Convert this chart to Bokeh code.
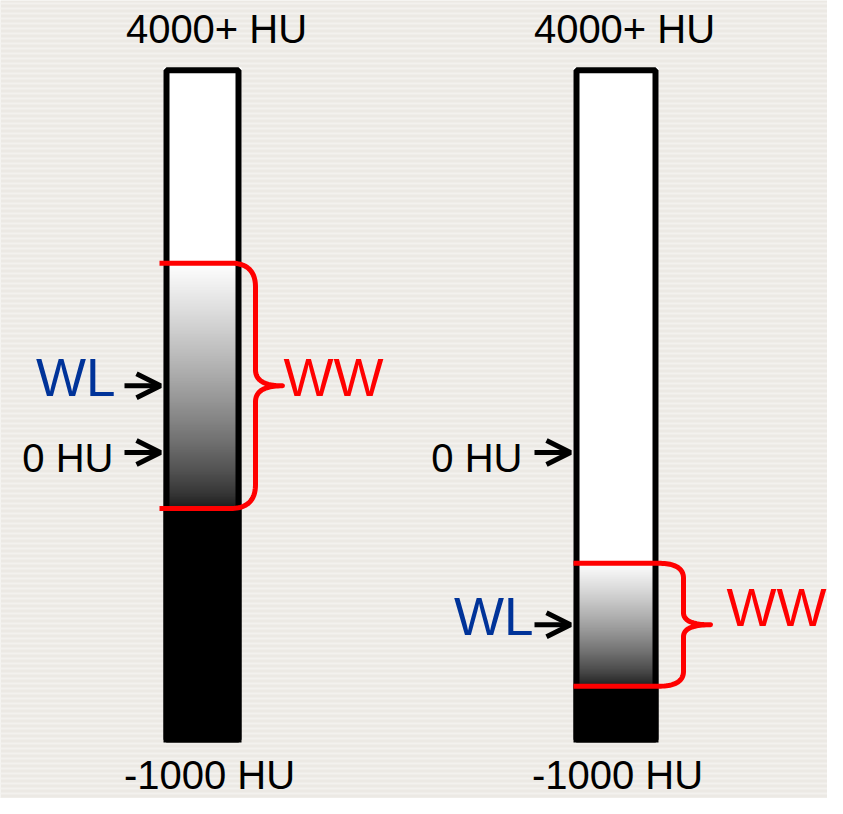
import numpy as np
from bokeh.plotting import figure
from bokeh.models import Range1d, LinearColorMapper, Arrow, OpenHead
from bokeh.core.properties import value
from bokeh.embed import file_html
from bokeh.resources import INLINE

# ---------------- data ----------------
hu_floor = -1000            # bottom of the CT scale
hu_display_top = 1328       # top of the drawn bar (schematic: everything above shown white, "4000+")
top_labels = ["4000+ HU", "4000+ HU"]
bottom_labels = ["-1000 HU", "-1000 HU"]
zero_hu = [0, 0]
zero_labels = ["0 HU", "0 HU"]
window_level = [230, -594]   # WL of each panel (HU)
window_width = [846, 424]    # WW of each panel (HU)
wl_labels = ["WL", "WL"]
ww_labels = ["WW", "WW"]

# ---------------- layout / style ----------------
W, H = 827, 798
x_lo, x_hi = 0, 827
y_lo, y_hi = -1193.1, 1558.6
hu_per_px = (y_hi - y_lo) / H

bar_x0 = [163, 573]
bar_x1 = [241, 658]
brace_start = [159, 573]
brace_vx = [255, 683]
brace_tip = [282, 710]
corner_rx = [25, 25]
corner_ry = [24, 15]
tip_ry = [16, 12]
arrow_len = [39, 39]
wl_gap = [9, 1]
zero_gap = [11, 12]
ww_gap = [1, 16]
ww_dy = [9, 0]
top_label_x = [216, 624]
bottom_label_x = [209, 617]
shift40, shift53 = 14, 17    # baseline correction of the renderer

bg = "#ECE9E4"
stripe = "#F3F1EE"
blue = "#003399"
red = "#FF0000"
font = value("Liberation Sans")
# grey ramp of the display (dark grey -> white, slightly lifted midtones)
greys = ["#%02x%02x%02x" % ((v,) * 3) for v in
         (26 + 229 * np.linspace(0, 1, 256) ** 0.75).round().astype(int)]

p = figure(width=W, height=H, x_range=Range1d(x_lo, x_hi), y_range=Range1d(y_lo, y_hi),
           output_backend="svg", toolbar_location=None, min_border=0,
           x_axis_location=None, y_axis_location=None,
           background_fill_color=bg, border_fill_color=bg)
p.grid.visible = False
p.outline_line_color = None

# subtle horizontal stripes of the slide background
p.quad(left=x_lo, right=x_hi, bottom=y_lo, top=y_hi, fill_color=None, line_color=None,
       hatch_pattern="horizontal_line", hatch_color=stripe, hatch_scale=5, hatch_weight=2)


def qbez(p0, p1, p2, n=24):
    t = np.linspace(0, 1, n)
    x = (1 - t) ** 2 * p0[0] + 2 * (1 - t) * t * p1[0] + t ** 2 * p2[0]
    y = (1 - t) ** 2 * p0[1] + 2 * (1 - t) * t * p1[1] + t ** 2 * p2[1]
    return list(x), list(y)


hu_grid = np.arange(hu_floor, hu_display_top + 1, 1.0).reshape(-1, 1)

for i in range(2):
    wl, ww = window_level[i], window_width[i]
    lo, hi = wl - ww / 2, wl + ww / 2
    x0, x1 = bar_x0[i], bar_x1[i]

    # grey-level bar: HU mapped through the window (below -> black, above -> white)
    mapper = LinearColorMapper(palette=greys, low=lo, high=hi,
                               low_color="#000000", high_color="#ffffff")
    p.image(image=[hu_grid], x=x0, y=hu_floor, dw=x1 - x0, dh=hu_display_top - hu_floor,
            color_mapper=mapper)
    # bar outline
    p.quad(left=x0 + 3, right=x1 - 3, bottom=hu_floor + 3 * hu_per_px,
           top=hu_display_top - 3 * hu_per_px, fill_color=None, line_color="black", line_width=6)

    # red brace marking the window width
    xv, xt, xs = brace_vx[i], brace_tip[i], brace_start[i]
    rcx, rcy, rty = corner_rx[i], corner_ry[i] * hu_per_px, tip_ry[i] * hu_per_px
    X, Y = [xs], [hi]
    for seg in (qbez((xv - rcx, hi), (xv, hi), (xv, hi - rcy)),
                qbez((xv, wl + rty), (xv, wl), (xt, wl)),
                qbez((xt, wl), (xv, wl), (xv, wl - rty)),
                qbez((xv, lo + rcy), (xv, lo), (xv - rcx, lo))):
        X += seg[0]
        Y += seg[1]
    X.append(xs)
    Y.append(lo)
    p.line(X, Y, line_color=red, line_width=5, line_join="round", line_cap="butt")

    # arrows: WL and 0 HU
    for yv in (wl, zero_hu[i]):
        p.add_layout(Arrow(end=OpenHead(line_color="black", line_width=5, size=24),
                           x_start=x0 - arrow_len[i], y_start=yv, x_end=x0 - 3, y_end=yv,
                           line_color="black", line_width=5))

    # texts
    p.text(x=[top_label_x[i]], y=[hu_display_top], text=[top_labels[i]], y_offset=-24 - shift40,
           text_align="center", text_baseline="alphabetic", text_font=font,
           text_font_size="40px", text_color="black")
    p.text(x=[bottom_label_x[i]], y=[hu_floor], text=[bottom_labels[i]], y_offset=46 - shift40,
           text_align="center", text_baseline="alphabetic", text_font=font,
           text_font_size="40px", text_color="black")
    p.text(x=[x0 - arrow_len[i] - zero_gap[i]], y=[zero_hu[i]], text=[zero_labels[i]],
           y_offset=20 - shift40,
           text_align="right", text_baseline="alphabetic", text_font=font,
           text_font_size="40px", text_color="black")
    p.text(x=[x0 - arrow_len[i] - wl_gap[i]], y=[wl], text=[wl_labels[i]], y_offset=9 - shift53,
           text_align="right", text_baseline="alphabetic", text_font=font,
           text_font_size="53px", text_color=blue)
    p.text(x=[xt + ww_gap[i]], y=[wl], text=[ww_labels[i]], y_offset=ww_dy[i] - shift53,
           text_align="left", text_baseline="alphabetic", text_font=font,
           text_font_size="53px", text_color=red)

open("out.html", "w").write(file_html(p, INLINE))
